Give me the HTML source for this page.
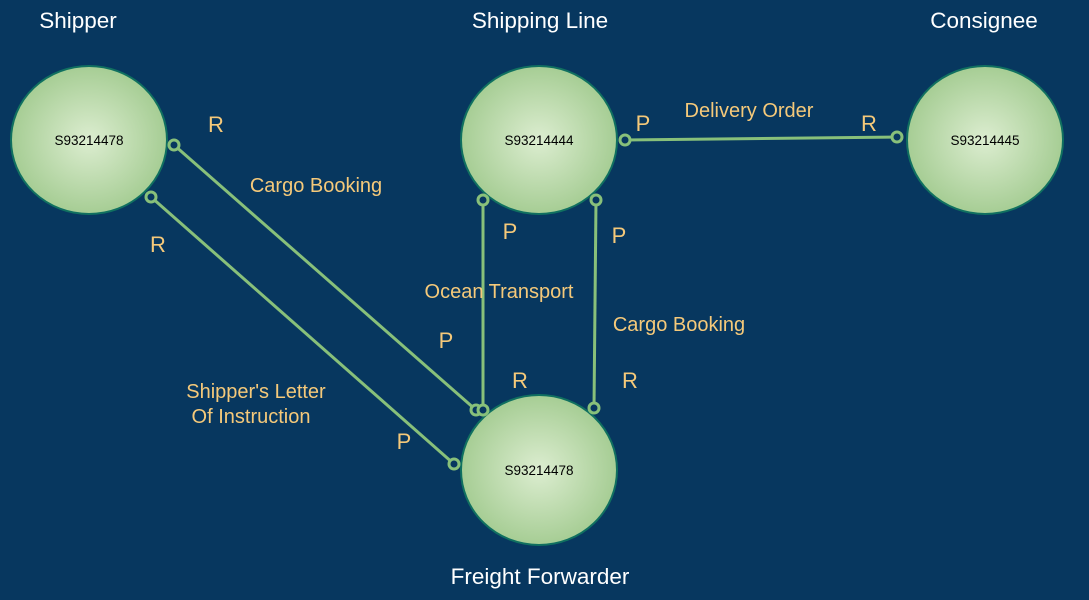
<!DOCTYPE html><html><head><style>body{margin:0;background:#07375f}</style></head><body>
<svg width="1089" height="600" xmlns="http://www.w3.org/2000/svg" style="display:block">
<defs><radialGradient id="g" cx="50%" cy="50%" r="50%"><stop offset="0" stop-color="#dcedd0"/><stop offset="1" stop-color="#a6cd94"/></radialGradient></defs>
<rect width="1089" height="600" fill="#07375f"/>
<g fill="url(#g)" stroke="#107060" stroke-width="2">
<ellipse cx="89" cy="140" rx="78" ry="74"/>
<ellipse cx="539" cy="140" rx="78" ry="74"/>
<ellipse cx="985" cy="140" rx="78" ry="74"/>
<ellipse cx="539" cy="470" rx="78" ry="75"/>
</g>
<g stroke="#88c07a" stroke-width="3" fill="none">
<line x1="174" y1="145" x2="476" y2="410"/>
<line x1="151" y1="197" x2="454" y2="464"/>
<line x1="483" y1="200" x2="483" y2="410"/>
<line x1="596" y1="200" x2="594" y2="408"/>
<line x1="625" y1="140" x2="897" y2="137"/>
</g>
<g stroke="#88c07a" stroke-width="3" fill="#07375f">
<circle cx="174" cy="145" r="5"/><circle cx="476" cy="410" r="5"/>
<circle cx="151" cy="197" r="5"/><circle cx="454" cy="464" r="5"/>
<circle cx="483" cy="200" r="5"/><circle cx="483" cy="410" r="5"/>
<circle cx="596" cy="200" r="5"/><circle cx="594" cy="408" r="5"/>
<circle cx="625" cy="140" r="5"/><circle cx="897" cy="137" r="5"/>
</g>
<g font-family="Liberation Sans, sans-serif" font-size="13.5" fill="#000" text-anchor="middle">
<text x="89" y="145">S93214478</text><text x="539" y="145">S93214444</text>
<text x="985" y="145">S93214445</text><text x="539" y="475">S93214478</text>
</g>
<g font-family="Liberation Sans, sans-serif" font-size="22.5" fill="#fff" text-anchor="middle">
<text x="78" y="28">Shipper</text><text x="540" y="28">Shipping Line</text>
<text x="984" y="28">Consignee</text><text x="540" y="584">Freight Forwarder</text>
</g>
<g font-family="Liberation Sans, sans-serif" font-size="20" fill="#f5c97a" text-anchor="middle">
<text x="316" y="192">Cargo Booking</text>
<text x="499" y="298">Ocean Transport</text>
<text x="679" y="331">Cargo Booking</text>
<text x="749" y="117">Delivery Order</text>
<text x="256" y="398">Shipper's Letter</text>
<text x="251" y="423">Of Instruction</text>
</g>
<g font-family="Liberation Sans, sans-serif" font-size="22" fill="#f5c97a" text-anchor="middle">
<text x="216" y="132">R</text><text x="158" y="252">R</text>
<text x="446" y="348">P</text><text x="404" y="449">P</text>
<text x="510" y="239">P</text><text x="619" y="243">P</text>
<text x="520" y="388">R</text><text x="630" y="388">R</text>
<text x="643" y="131">P</text><text x="869" y="131">R</text>
</g>
</svg></body></html>
